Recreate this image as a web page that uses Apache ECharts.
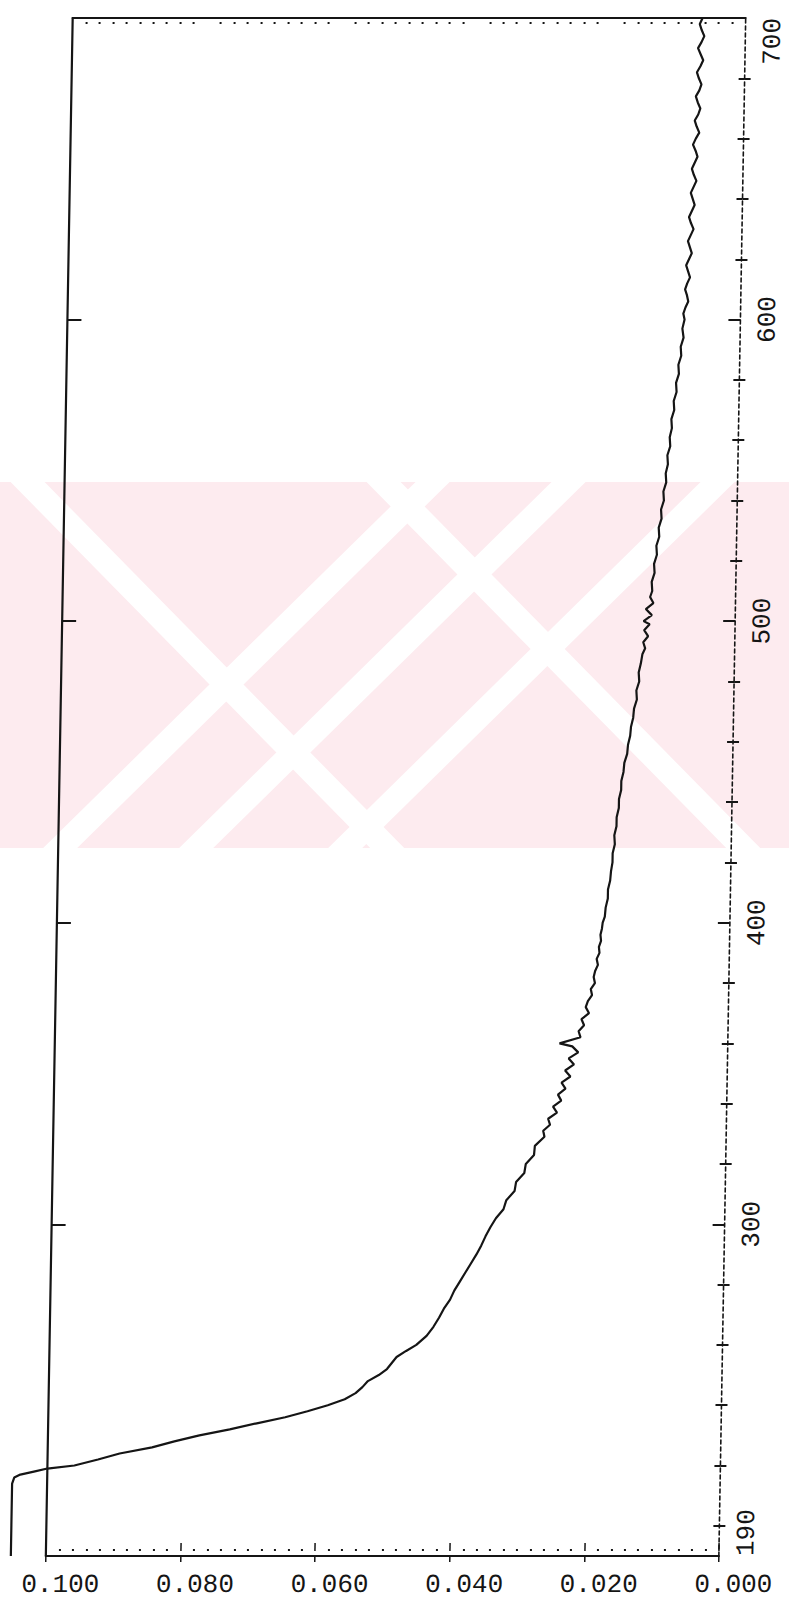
<!DOCTYPE html>
<html><head><meta charset="utf-8">
<script src="https://cdn.jsdelivr.net/npm/echarts@6/dist/echarts.min.js"></script>
<style>
html,body{margin:0;padding:0;background:#fff;width:789px;height:1606px;overflow:hidden}
#chart{position:absolute;left:0;top:0;width:860px;height:1606px;transform:skewX(-1deg);transform-origin:0 0;}
</style>
</head><body><div id="chart"></div>
<script>
// Wavelength (nm) and absorbance
const wavelength = [
700,698,696,694,692,690,688,686,684,682,680,678,676,674,672,670,668,666,664,662,660,658,656,654,652,650,648,646,644,642,640,638,636,634,632,630,628,626,624,622,620,618,616,614,612,610,608,606,604,602,600,
597,594,591,588,585,582,579,576,573,570,567,564,561,558,555,552,549,546,543,540,537,534,531,528,525,522,519,516,513,510,
508,506,504,502,500,499,497,495,493,491,489,
486,483,480,477,474,471,468,465,462,459,456,453,450,447,444,441,438,435,432,429,426,423,420,417,414,411,408,405,402,400,
398,396,394,392,390,388,386,384,382,380,378,376,374,372,370,368,366,364,362,360,359,357,355,353,351,349,347,345,343,341,339,337,335,333,331,329,
326,323,320,317,314,311,308,305,302,299,296,293,290,287,284,281,278,275,272,269,266,263,260,258,256,254,252,250,248,246,244,242,240,238,236,234,232,230,228,226,224,222,220,219,218,217,216,214,190
];
const absorbance = [
0.0064,0.0068,0.0065,0.0061,0.0065,0.0070,0.0066,0.0062,0.0066,0.0071,0.0068,0.0064,0.0067,0.0072,0.0069,0.0065,0.0068,0.0073,0.0070,0.0066,0.0071,0.0075,0.0071,0.0068,0.0072,0.0076,0.0073,0.0069,0.0073,0.0077,0.0074,0.0071,0.0075,0.0079,0.0076,0.0072,0.0076,0.0080,0.0077,0.0074,0.0078,0.0082,0.0079,0.0076,0.0080,0.0083,0.0080,0.0078,0.0082,0.0085,0.0083,
0.0086,0.0084,0.0088,0.0087,0.0091,0.0090,0.0094,0.0093,0.0097,0.0096,0.0100,0.0099,0.0102,0.0101,0.0105,0.0104,0.0107,0.0106,0.0110,0.0109,0.0113,0.0112,0.0116,0.0115,0.0119,0.0118,0.0122,0.0121,0.0125,0.0124,
0.0127,0.0122,0.0133,0.0124,0.0136,0.0127,0.0135,0.0129,0.0136,0.0133,0.0137,
0.0139,0.0142,0.0141,0.0145,0.0144,0.0148,0.0149,0.0152,0.0153,0.0156,0.0157,0.0161,0.0162,0.0165,0.0165,0.0168,0.0168,0.0171,0.0171,0.0174,0.0173,0.0176,0.0176,0.0178,0.0179,0.0182,0.0182,0.0185,0.0186,0.0189,
0.0190,0.0192,0.0191,0.0194,0.0193,0.0197,0.0195,0.0199,0.0201,0.0199,0.0205,0.0203,0.0209,0.0212,0.0207,0.0218,0.0214,0.0222,0.0219,0.0250,0.0231,0.0222,0.0236,0.0228,0.0241,0.0233,0.0246,0.0240,0.0251,0.0246,0.0258,0.0252,0.0265,0.0262,0.0272,0.0270,
0.0284,0.0285,0.0297,0.0299,0.0311,0.0313,0.0325,0.0329,0.0340,0.0348,0.0355,0.0361,0.0368,0.0376,0.0384,0.0392,0.0400,0.0406,0.0415,0.0422,0.0430,0.0440,0.0455,0.0470,0.0484,0.0491,0.0498,0.0510,0.0526,0.0534,0.0544,0.0560,0.0585,0.0615,0.0648,0.0690,0.0730,0.0775,0.0812,0.0845,0.0893,0.0925,0.0960,0.1000,0.1020,0.1040,0.1049,0.1052,0.1052
];
const xTickLabels = [0.1, 0.08, 0.06, 0.04, 0.02, 0];
const yTickLabels = [190, 300, 400, 500, 600, 700];
const yMajorTicks = [300, 400, 500, 600];
const yMinorTicks = [200,220,240,260,280,320,340,360,380,420,440,460,480,520,540,560,580,620,640,660,680];

const ink = '#151515';
const labelFont = {fontFamily: 'Liberation Mono', fontSize: 26, color: ink};
const points = wavelength.map((w, i) => [absorbance[i], w]);

// frame grid (0.000-0.100) and a wider plotting grid (0.000-0.110) sharing the same scale,
// so the off-scale start of the trace is drawn left of the frame as on the plotter chart
const G = {left: 73, top: 18, width: 673, height: 1538};
const overMax = 0.11;

const xBase = {type: 'value', min: 0, max: 0.1, interval: 0.02, inverse: true, splitLine: {show: false}, gridIndex: 0};
const yBase = {type: 'value', min: 190, max: 700, splitLine: {show: false}, gridIndex: 0};

// faint pink background watermark of the scanned page (decoration only)
const wmTop = 482, wmBottom = 848, wmStripe = 34;
const wmSlash = [923, 1059, 1208];
const wmBack = [-446, -90];
const wmElements = [{type: 'rect', z: -10, silent: true, shape: {x: 0, y: wmTop, width: 860, height: wmBottom - wmTop}, style: {fill: '#fdebef'}}];
wmSlash.forEach(c => wmElements.push({type: 'polygon', z: -9, silent: true, style: {fill: '#ffffff'},
  shape: {points: [[c - wmTop - wmStripe / 2, wmTop], [c - wmTop + wmStripe / 2, wmTop], [c - wmBottom + wmStripe / 2, wmBottom], [c - wmBottom - wmStripe / 2, wmBottom]]}}));
wmBack.forEach(d => wmElements.push({type: 'polygon', z: -9, silent: true, style: {fill: '#ffffff'},
  shape: {points: [[d + wmTop - wmStripe / 2, wmTop], [d + wmTop + wmStripe / 2, wmTop], [d + wmBottom + wmStripe / 2, wmBottom], [d + wmBottom - wmStripe / 2, wmBottom]]}}));

const chart = echarts.init(document.getElementById('chart'), null, {renderer: 'svg'});
chart.setOption({
  backgroundColor: '#ffffff',
  animation: false,
  graphic: {elements: wmElements},
  grid: [
    {left: G.left, top: G.top, width: G.width, height: G.height, containLabel: false, outerBoundsMode: 'none'},
    {left: G.left - G.width * (overMax - 0.1) / 0.1, top: G.top, width: G.width * overMax / 0.1, height: G.height, containLabel: false, outerBoundsMode: 'none'}
  ],
  xAxis: [
    Object.assign({}, xBase, {position: 'bottom',
      axisLine: {show: true, onZero: false, lineStyle: {color: ink, width: 2.2}},
      axisTick: {show: true, inside: false, length: 6, lineStyle: {color: ink, width: 1.5}},
      axisLabel: Object.assign({show: true, customValues: xTickLabels, formatter: v => v.toFixed(3), margin: 16, padding: [0, 0, 0, 30]}, labelFont)}),
    Object.assign({}, xBase, {position: 'bottom', offset: -5,
      axisLine: {show: false},
      axisTick: {show: true, inside: true, length: 8, lineStyle: {color: ink, width: 1.5}},
      minorTick: {show: true, splitNumber: 10, length: 2, lineStyle: {color: ink, width: 2}},
      axisLabel: {show: false}}),
    Object.assign({}, xBase, {position: 'top',
      axisLine: {show: true, onZero: false, lineStyle: {color: ink, width: 2.2}},
      axisTick: {show: false}, axisLabel: {show: false}}),
    Object.assign({}, xBase, {position: 'top', offset: -6,
      axisLine: {show: false}, axisTick: {show: false},
      minorTick: {show: true, splitNumber: 10, length: 2, lineStyle: {color: ink, width: 2}},
      axisLabel: {show: false}}),
    {type: 'value', gridIndex: 1, min: 0, max: overMax, inverse: true, show: false, splitLine: {show: false}}
  ],
  yAxis: [
    Object.assign({}, yBase, {position: 'right',
      axisLine: {show: true, onZero: false, lineStyle: {color: ink, width: 1.6, type: [4, 3]}},
      axisTick: {show: true, inside: true, length: 12, customValues: yMajorTicks, lineStyle: {color: ink, width: 1.8}},
      axisLabel: Object.assign({show: true, customValues: yTickLabels, rotate: 90, margin: 17, lineHeight: 21, alignMinLabel: 'left', alignMaxLabel: 'right'}, labelFont)}),
    Object.assign({}, yBase, {position: 'right',
      axisLine: {show: false},
      axisTick: {show: true, inside: true, length: 6, customValues: yMinorTicks, lineStyle: {color: ink, width: 1.8}},
      axisLabel: {show: false}}),
    Object.assign({}, yBase, {position: 'left',
      axisLine: {show: true, onZero: false, lineStyle: {color: ink, width: 2.2}},
      axisTick: {show: true, inside: true, length: 14, customValues: yMajorTicks, lineStyle: {color: ink, width: 2}},
      axisLabel: {show: false}}),
    Object.assign({}, yBase, {position: 'left',
      axisLine: {show: false},
      axisTick: {show: true, inside: true, length: 6, customValues: yMinorTicks, lineStyle: {color: ink, width: 2}},
      axisLabel: {show: false}}),
    {type: 'value', gridIndex: 1, min: 190, max: 700, show: false, splitLine: {show: false}}
  ],
  series: [{
    type: 'line', xAxisIndex: 4, yAxisIndex: 4, data: points,
    showSymbol: false, clip: false, smooth: false,
    lineStyle: {color: ink, width: 2.2}
  }]
});
</script>
</body></html>
